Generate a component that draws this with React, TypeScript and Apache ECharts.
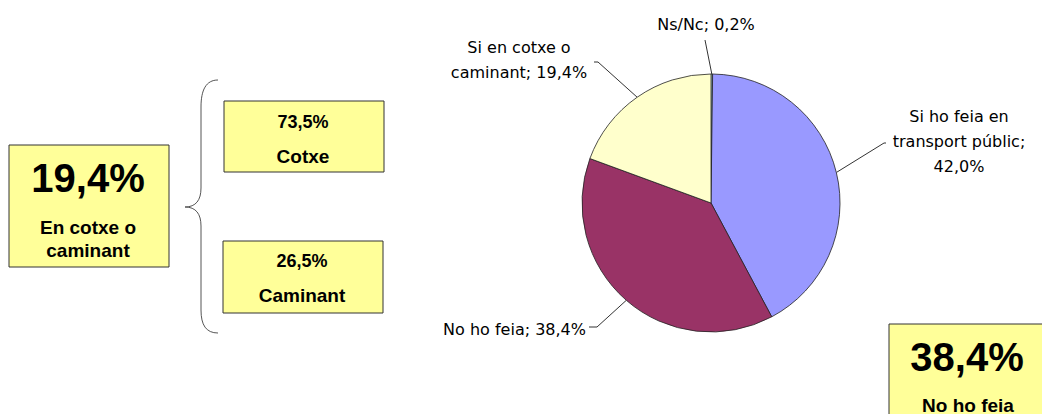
import React, { useEffect, useRef } from "react";
import * as echarts from "echarts";

// Pie data (clockwise from 12 o'clock)
const categories = ["Ns/Nc", "Si ho feia en\ntransport públic", "No ho feia", "Si en cotxe o\ncaminant"];
const values = [0.2, 42.0, 38.4, 19.4];
const labelSeparators = ["; ", ";\n", "; ", "; "];
const sliceColors = ["#CCFFFF", "#9999FF", "#993366", "#FFFFCC"];

// Summary boxes
const carWalkShare = 19.4;
const carWalkLabel = ["En cotxe o", "caminant"];
const splitValues = [73.5, 26.5];
const splitLabels = ["Cotxe", "Caminant"];
const noShare = 38.4;
const noLabel = "No ho feia";

const fmt = (v: number) => v.toFixed(1).replace(".", ",") + "%";
const FONT = 'Arial, "Liberation Sans", sans-serif';
const LABEL_FONT = '"DejaVu Sans", Arial, sans-serif';
const BOX_FILL = "#FFFF99";
const BOX_STROKE = "#333333";

const BRACE_PATH =
  "M218,80 C206,80 201,90 201,107 L201,188 C201,200 196,207 185,207 C196,207 201,214 201,226 L201,310 C201,325 206,333 218,333";

let braceRegistered = false;

export default function App() {
  const ref = useRef<HTMLDivElement>(null);

  useEffect(() => {
    document.body.style.margin = "0";
    if (!braceRegistered) {
      echarts.graphic.registerShape("brace", echarts.graphic.extendPath(BRACE_PATH, {}) as any);
      braceRegistered = true;
    }
    const chart = echarts.init(ref.current!, undefined, { renderer: "svg" });

    const labelPos: Record<number, any> = {
      0: { x: 706, y: 24, align: "center", pts: [[705, 40], [705, 40]] },
      1: { x: 959, y: 141, align: "center", pts: [[884, 143], [886, 143]] },
      2: { x: 586, y: 329, align: "right", pts: [[597, 327], [589, 327]] },
      3: { x: 519, y: 60, align: "center", pts: [[598, 62], [594, 62]] },
    };

    const boxText = (text: string, x: number, y: number, size: number) => ({
      type: "text",
      x,
      y,
      style: {
        text,
        fontFamily: FONT,
        fontSize: size,
        fontWeight: "bold",
        fill: "#000",
        align: "center",
        verticalAlign: "middle",
      },
    });
    const box = (x: number, y: number, w: number, h: number) => ({
      type: "rect",
      shape: { x, y, width: w, height: h },
      style: { fill: BOX_FILL, stroke: BOX_STROKE, lineWidth: 1 },
    });

    chart.setOption({
      animation: false,
      backgroundColor: "#ffffff",
      series: [
        {
          type: "pie",
          center: [711, 203],
          radius: 129,
          startAngle: 90,
          clockwise: true,
          avoidLabelOverlap: false,
          itemStyle: { borderColor: "#222", borderWidth: 0.8 },
          label: {
            show: true,
            position: "outside",
            fontFamily: LABEL_FONT,
            fontSize: 16,
            color: "#000",
            lineHeight: 25,
            formatter: (p: any) => p.name + labelSeparators[p.dataIndex] + fmt(p.value),
          },
          labelLine: {
            show: true,
            length: 20,
            length2: 10,
            lineStyle: { color: "#333", width: 1 },
          },
          labelLayout: (params: any) => {
            const cfg = labelPos[params.dataIndex];
            const p0 = params.labelLinePoints ? params.labelLinePoints[0] : cfg.pts[0];
            return {
              x: cfg.x,
              y: cfg.y,
              align: cfg.align,
              verticalAlign: "middle",
              labelLinePoints: [p0, cfg.pts[0], cfg.pts[1]],
            };
          },
          emphasis: { disabled: true },
          data: categories.map((name, i) => ({
            name,
            value: values[i],
            itemStyle: { color: sliceColors[i] },
          })),
        },
      ],
      graphic: [
        box(9, 145, 160, 122),
        boxText(fmt(carWalkShare), 88, 178, 40),
        boxText(carWalkLabel[0], 88, 227, 19),
        boxText(carWalkLabel[1], 88, 250, 19),
        {
          type: "brace",
          x: 0,
          y: 0,
          style: { fill: "none", stroke: "#555", lineWidth: 1 },
        },
        box(224, 101, 160, 71),
        boxText(fmt(splitValues[0]), 303, 122, 18),
        boxText(splitLabels[0], 303, 156, 19),
        box(223, 241, 160, 72),
        boxText(fmt(splitValues[1]), 302, 261, 18),
        boxText(splitLabels[1], 302, 295, 19),
        box(889, 324, 170, 110),
        boxText(fmt(noShare), 967, 357, 40),
        boxText(noLabel, 968, 405, 19),
      ],
    });

    return () => chart.dispose();
  }, []);

  return <div ref={ref} style={{ width: 1042, height: 414 }} />;
}
